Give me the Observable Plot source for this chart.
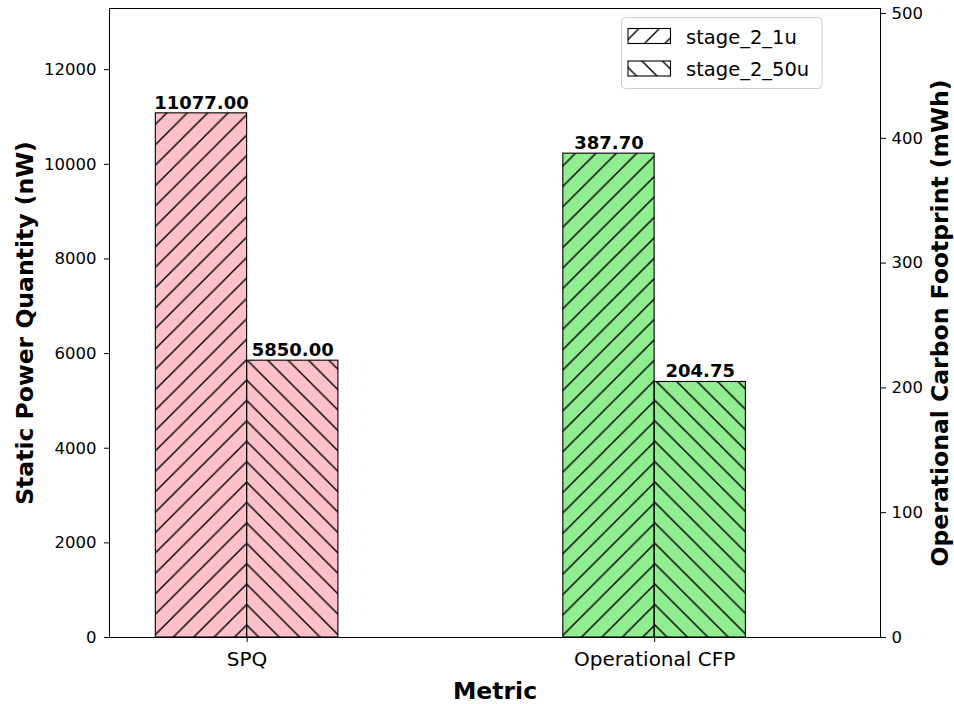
<!DOCTYPE html>
<html>
<head>
<meta charset="utf-8">
<script src="https://cdn.jsdelivr.net/npm/d3@7"></script>
<script src="https://cdn.jsdelivr.net/npm/@observablehq/plot@0.6"></script>
<style>
  html, body { margin: 0; padding: 0; background: white; }
  #chart { width: 954px; height: 704px; }
</style>
</head>
<body>
<div id="chart"></div>
<script>
// Categories, series and tick values
const metrics = ["SPQ", "Operational CFP"];
const stages = ["stage_2_1u", "stage_2_50u"];
const spqValues = [11077.00, 5850.00];   // Static Power Quantity (nW), left axis
const cfpValues = [387.70, 204.75];      // Operational Carbon Footprint (mWh), right axis
const leftTicks = [0, 2000, 4000, 6000, 8000, 10000, 12000];
const rightTicks = [0, 100, 200, 300, 400, 500];
const metricColors = ["pink", "lightgreen"];
const hatchIds = ["hatch-fwd", "hatch-back"];

// Axis limits: headroom above the tallest bar of each axis
const leftMax = d3.max(spqValues) * 1.2;
const rightMax = d3.max(cfpValues) * 1.3;
const k = leftMax / rightMax; // right-axis values -> left-axis units

const barWidth = 0.224;
const rows = [];
metrics.forEach((m, i) => {
  const vals = i === 0 ? spqValues : cfpValues;
  stages.forEach((s, j) => {
    const v = vals[j];
    rows.push({
      metric: m, stage: s, value: v,
      x1: i + (j - 1) * barWidth,
      x2: i + j * barWidth,
      y: i === 0 ? v : v * k,
      color: metricColors[i],
      hatch: `url(#${hatchIds[j]})`
    });
  });
});

const font = "DejaVu Sans, Verdana, sans-serif";

const chart = Plot.plot({
  width: 954,
  height: 704,
  marginLeft: 109,
  marginRight: 74,
  marginTop: 8,
  marginBottom: 67,
  style: {fontFamily: font, background: "white", color: "black", overflow: "visible"},
  color: {type: "identity"},
  x: {type: "linear", domain: [-0.3377, 1.5543]},
  y: {domain: [0, leftMax]},
  marks: [
    Plot.rectY(rows, {x1: "x1", x2: "x2", y1: 0, y2: "y", fill: "color"}),
    Plot.rectY(rows, {x1: "x1", x2: "x2", y1: 0, y2: "y", fill: "hatch", stroke: "black", strokeWidth: 1.1}),
    Plot.text(rows, {
      x: d => (d.x1 + d.x2) / 2, y: "y",
      text: d => d.value.toFixed(2),
      lineAnchor: "bottom", dy: -4.5,
      fontSize: 18, fontWeight: "bold", fill: "black"
    }),
    Plot.axisY(leftTicks, {
      anchor: "left", tickSize: 5, tickPadding: 8, fontSize: 16.5, label: null,
      tickFormat: d => String(d)
    }),
    Plot.axisY(rightTicks.map(v => v * k), {
      anchor: "right", tickSize: 5, tickPadding: 6, fontSize: 16.5, label: null,
      tickFormat: d => String(Math.round(d / k))
    }),
    Plot.axisX([0, 1], {
      anchor: "bottom", tickSize: 5, tickPadding: 9, fontSize: 20, label: null,
      tickFormat: i => metrics[i]
    }),
    Plot.frame({stroke: "black", strokeWidth: 1}),
    Plot.text(["Metric"], {
      text: d => d, frameAnchor: "bottom", textAnchor: "middle", lineAnchor: "bottom", dy: 61,
      fontSize: 23.5, fontWeight: "bold", fill: "black"
    }),
    Plot.text(["Static Power Quantity (nW)"], {
      text: d => d, frameAnchor: "left", textAnchor: "middle", rotate: -90, lineAnchor: "bottom", dx: -77,
      fontSize: 23.5, fontWeight: "bold", fill: "black"
    }),
    Plot.text(["Operational Carbon Footprint (mWh)"], {
      text: d => d, frameAnchor: "right", textAnchor: "middle", rotate: -90, lineAnchor: "bottom", dx: 67,
      fontSize: 23.5, fontWeight: "bold", fill: "black"
    })
  ]
});

// Hatch patterns, anchored in page space
const svg = d3.select(chart.tagName.toLowerCase() === "svg" ? chart : chart.querySelector("svg"));
const p = 20.41, s = 3;
const defs = svg.insert("defs", ":first-child");
defs.append("pattern")
  .attr("id", "hatch-fwd").attr("patternUnits", "userSpaceOnUse")
  .attr("x", 14.4).attr("y", 0).attr("width", p).attr("height", p)
  .append("path")
  .attr("d", `M${-s},${s}L${s},${-s}M0,${p}L${p},0M${p - s},${p + s}L${p + s},${p - s}`)
  .attr("stroke", "black").attr("stroke-width", 1.4).attr("fill", "none");
defs.append("pattern")
  .attr("id", "hatch-back").attr("patternUnits", "userSpaceOnUse")
  .attr("x", 9.5).attr("y", 0).attr("width", p).attr("height", p)
  .append("path")
  .attr("d", `M${-s},${p - s}L${s},${p + s}M0,0L${p},${p}M${p - s},${-s}L${p + s},${s}`)
  .attr("stroke", "black").attr("stroke-width", 1.4).attr("fill", "none");

// Legend
const legend = svg.append("g").attr("font-family", font).attr("text-anchor", "start");
legend.append("rect")
  .attr("x", 621.5).attr("y", 17.5).attr("width", 200.5).attr("height", 71)
  .attr("rx", 4).attr("fill", "white").attr("fill-opacity", 0.8)
  .attr("stroke", "#cccccc").attr("stroke-width", 1);
stages.forEach((st, j) => {
  const top = j === 0 ? 28.5 : 61;
  legend.append("rect")
    .attr("x", 628).attr("y", top).attr("width", 42.5).attr("height", 15)
    .attr("fill", "white").attr("stroke", "none");
  legend.append("rect")
    .attr("x", 628).attr("y", top).attr("width", 42.5).attr("height", 15)
    .attr("fill", `url(#${hatchIds[j]})`).attr("stroke", "black").attr("stroke-width", 1.1);
  legend.append("text")
    .attr("x", 686).attr("y", top + 15).attr("font-size", 19.5).attr("fill", "black")
    .attr("text-anchor", "start")
    .text(st);
});

document.getElementById("chart").appendChild(chart);
</script>
</body>
</html>
